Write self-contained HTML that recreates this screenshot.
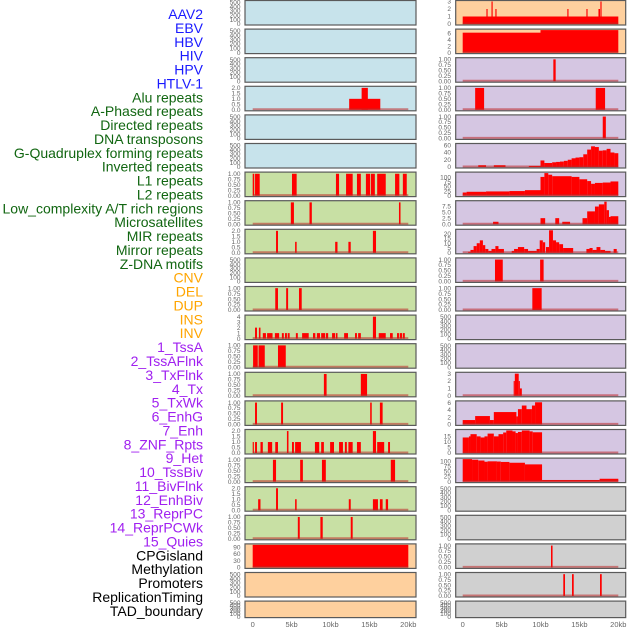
<!DOCTYPE html>
<html><head><meta charset="utf-8"><style>
html,body{margin:0;padding:0;background:#fff;width:630px;height:630px;overflow:hidden}
svg{display:block;font-family:"Liberation Sans",sans-serif}
</style></head><body>
<svg id="chart" width="630" height="630" viewBox="0 0 630 630"></svg>
<script>
// ---- data ----
const trackLabels = ["AAV2","EBV","HBV","HIV","HPV","HTLV-1","Alu repeats","A-Phased repeats","Directed repeats","DNA transposons","G-Quadruplex forming repeats","Inverted repeats","L1 repeats","L2 repeats","Low_complexity A/T rich regions","Microsatellites","MIR repeats","Mirror repeats","Z-DNA motifs","CNV","DEL","DUP","INS","INV","1_TssA","2_TssAFlnk","3_TxFlnk","4_Tx","5_TxWk","6_EnhG","7_Enh","8_ZNF_Rpts","9_Het","10_TssBiv","11_BivFlnk","12_EnhBiv","13_ReprPC","14_ReprPCWk","15_Quies","CPGisland","Methylation","Promoters","ReplicationTiming","TAD_boundary"];
const trackGroups = ["v","v","v","v","v","v","r","r","r","r","r","r","r","r","r","r","r","r","r","s","s","s","s","s","c","c","c","c","c","c","c","c","c","c","c","c","c","c","c","o","o","o","o","o"];
const xTicks = [0,5,10,15,20];
const xTickLabels = ["0","5kb","10kb","15kb","20kb"];
const ticksEmpty = [0,100,200,300,400,500];
const ticksUnit = [0,0.25,0.5,0.75,1];
const ticksTwo = [0,0.5,1,1.5,2];
// intervals: [startKb, endKb, value]
const hivData = [[12.4,16.4,1],[14.0,14.8,2]];
const aluData = [[0,0.2,1],[0.3,0.9,1],[5.05,5.65,1],[10.7,11.1,1],[12,12.85,1],[13.4,13.9,1],[14.55,15.1,1],[15.2,15.7,1],[16,17.1,1],[18.3,18.85,1],[19.3,19.8,1]];
const aphasedData = [[4.9,5.3,1],[7.3,7.6,1],[18.8,19.0,1]];
const directedData = [[3.0,3.25,2],[5.45,5.65,1],[10.6,10.9,1],[12.3,12.6,1],[15.45,15.85,2]];
const gquadData = [[2.9,3.25,1],[4.3,4.55,1],[5.95,6.3,1]];
const invertedData = [[0.3,0.55,2],[0.8,1.0,2],[1.3,1.7,1],[1.85,2.55,1],[2.85,3.4,1],[3.75,4.0,1],[4.15,4.4,1],[4.5,4.75,1],[5.55,5.8,1],[6.35,7.2,1],[7.75,8.05,1],[8.25,8.65,1],[8.8,9.3,1],[9.4,9.7,1],[10.2,10.6,1],[10.7,10.9,1],[11.75,12.25,1],[13.15,13.4,1],[13.55,13.9,1],[15.45,15.85,4],[16.2,17.1,1],[17.65,18.0,1],[18.55,18.8,1],[18.9,19.2,1],[19.3,19.55,1]];
const l1Data = [[0.05,0.65,1],[0.75,1.55,1],[3.25,4.25,1]];
const l2Data = [[9.15,9.5,1],[13.9,14.7,1]];
const lowcData = [[0.3,0.55,1],[3.65,3.9,1],[15.1,15.3,1],[16.35,16.7,1]];
const microData = [[0,0.15,1],[0.3,0.55,1],[1.0,1.3,1],[1.95,2.5,1],[2.9,3.25,1],[4.4,4.6,2],[5.05,5.3,1],[5.45,6.2,1],[8.0,8.55,1],[8.8,9.15,1],[9.95,10.45,1],[11.1,11.6,1],[11.85,12.1,1],[12.3,12.85,1],[13.4,13.9,1],[15.45,15.85,2],[16.0,16.9,1],[17.4,17.65,1]];
const mirData = [[2.6,3.0,1],[6.1,6.45,1],[8.9,9.4,1],[17.75,18.3,1]];
const mirrorData = [[0.7,1.0,1],[3.0,3.25,2],[5.45,5.65,1],[12.35,12.6,1],[15.45,16.1,1],[16.35,16.7,1],[17.1,17.4,1]];
const zdnaData = [[5.8,6.05,1],[8.7,9.0,1],[12.6,12.85,1]];
const cnvData = [[0,20,100]];
const insData = [[0,20,1],[3.05,3.2,2],[3.7,3.85,3],[4.2,4.35,2],[13.45,13.6,2],[15.9,16.05,2],[17.45,17.65,2],[17.7,17.85,3]];
const invData = [[0,10,6.2],[10,20,7]];
const tssaData = [[11.65,11.95,1]];
const tssaflnkData = [[1.6,2.75,1],[17.1,18.3,1]];
const txflnkData = [[18.0,18.4,1]];
const txData = [[2,3,5],[4,5.5,5],[8.5,10,3],[10,10.5,18],[10.5,11.5,11],[11.5,12,13],[12,12.5,14],[12.5,13,15],[13,13.5,17],[13.5,14,20],[14,14.5,24],[14.5,15,26],[15,15.5,27],[15.5,16,35],[16,16.5,48],[16.5,17,57],[17,17.5,55],[17.5,18,45],[18,18.5,46],[18.5,19,50],[19,19.5,40],[19.5,20,38]];
const txwkData = [[0,0.5,17],[0.5,3,21],[3,6,23],[6,8,25],[8,10,30],[10,10.5,103],[10.5,11,124],[11,11.5,115],[11.5,14,107],[14,15,103],[15,16,90],[16,16.5,80],[16.5,17,65],[17,18,70],[18,19,72],[19,20,78]];
const enhgData = [[3.9,4.6,1],[10,10.6,2.5],[11.9,12.4,2.5],[12.8,13.8,1],[15.4,16,2.5],[16,17,5.3],[17,17.5,7.3],[17.5,18.2,8.2],[18.2,18.5,9.3],[18.5,18.8,5.8],[18.8,19,3],[19,20,3.3]];
const enhData = [[0.7,1.0,1],[1.0,1.4,3],[1.4,1.8,7],[1.8,2.2,10],[2.2,2.6,13],[2.6,2.9,8],[2.9,3.3,4],[3.3,3.7,2],[3.7,4.2,4],[4.2,4.6,7],[4.6,5.3,4],[6.3,6.6,2],[6.6,7.1,4],[7.1,7.9,6],[7.9,8.4,4],[8.4,9.5,2],[9.5,9.9,4],[9.9,10.3,13],[10.3,10.6,11],[10.7,11.1,6],[11.1,11.6,23.5],[11.6,12.0,13],[12.0,12.4,11],[12.4,12.9,9],[12.9,14.2,5],[15.9,16.3,4],[16.3,16.7,5],[16.7,17.2,3],[17.2,17.7,6],[17.7,18.3,3],[18.3,19.0,2],[19.4,19.8,4]];
const znfData = [[4.15,5.15,1],[9.95,10.4,1]];
const hetData = [[8.95,10.15,1]];
const enhbivData = [[6.55,6.7,2],[6.7,7.2,3],[7.2,7.35,2],[7.35,7.6,1]];
const reprpcData = [[0,1.6,1.2],[1.6,3.5,2.3],[3.5,4.0,1.2],[4.0,6.9,3.4],[6.9,7.1,2.2],[7.1,7.6,4.2],[7.6,8.2,5.2],[8.2,8.9,4.2],[8.9,9.3,5.2],[9.3,10.2,6.1]];
const reprpcwkData = [[0,0.8,14],[0.8,1.0,15],[1.0,1.8,17],[1.8,2.3,15],[2.3,2.8,14],[2.8,3.2,15],[3.2,4.0,17.5],[4.0,4.6,15],[4.6,5.2,17],[5.2,5.6,18.5],[5.6,6.4,20.3],[6.4,6.8,19.5],[6.8,7.1,18],[7.1,7.6,19],[7.6,8.6,20.3],[8.6,9.0,19.5],[9.0,10.2,18.7]];
const quiesData = [[0,1.2,111],[1.2,2,108],[2,2.8,104],[2.8,3.2,98],[3.2,4.4,100],[4.4,4.9,99],[4.9,6.0,97],[6,8,93],[8,10.2,85],[10.2,17.6,8],[17.6,20,14]];
const promotersData = [[11.35,11.55,1]];
const repliData = [[12.93,13.15,1],[14.05,14.27,1],[17.65,17.87,1]];

// panel definitions (data refs, y max, ticks)
const panels = [
 [null,520,ticksEmpty],[null,520,ticksEmpty],[null,520,ticksEmpty],[hivData,2.05,ticksTwo],[null,520,ticksEmpty],[null,520,ticksEmpty],
 [aluData,1.03,ticksUnit],[aphasedData,1.03,ticksUnit],[directedData,2.05,ticksTwo],[null,520,ticksEmpty],[gquadData,1.03,ticksUnit],
 [invertedData,4.1,[0,1,2,3,4]],[l1Data,1.03,ticksUnit],[l2Data,1.03,ticksUnit],[lowcData,1.03,ticksUnit],[microData,2.05,ticksTwo],
 [mirData,1.03,ticksUnit],[mirrorData,2.05,ticksTwo],[zdnaData,1.03,ticksUnit],[cnvData,100,[0,30,60,90]],[null,520,ticksEmpty],[null,520,ticksEmpty],
 [insData,3,[0,1,2,3]],[invData,7,[0,2,4,6]],[tssaData,1.03,ticksUnit],[tssaflnkData,1.03,ticksUnit],[txflnkData,1.03,ticksUnit],
 [txData,62,[0,20,40,60]],[txwkData,124,[0,25,50,75,100]],[enhgData,9.3,[0,2.5,5,7.5]],[enhData,23.5,[0,5,10,15,20]],
 [znfData,1.03,ticksUnit],[hetData,1.03,ticksUnit],[null,520,ticksEmpty],[null,520,ticksEmpty],[enhbivData,3.05,[0,1,2,3]],
 [reprpcData,6.2,[0,2,4,6]],[reprpcwkData,20.3,[0,5,10,15]],[quiesData,111,[0,25,50,75,100]],
 [null,520,ticksEmpty],[null,520,ticksEmpty],[promotersData,1.03,ticksUnit],[repliData,1.03,ticksUnit],[null,520,ticksEmpty]
];
const tickFmt = {}; // formatting by ticks set
</script>
<script>
const NS="http://www.w3.org/2000/svg";
const svg=document.getElementById('chart');
function mk(tag,attrs,parent){const e=document.createElementNS(NS,tag);for(const k in attrs)e.setAttribute(k,attrs[k]);(parent||svg).appendChild(e);return e;}
const labelColor={v:"#1a1aff",r:"#116611",s:"#ffa500",c:"#a020f0",o:"#000000"};
const panelFill={v:"#c7e3eb",r:"#c8e0a4",s:"#fed09e",c:"#d5c6e2",o:"#d0d0d0"};
const colGeom=[{x:245,w:171,x0:252.7,tx:240.5},{x:455.7,w:170,x0:462.7,tx:451}];
const PX=7.78;
function xScale(col,kb){return colGeom[col].x0+kb*PX;}
function fmt(t,ticks){
  if(ticks===ticksUnit) return t.toFixed(2);
  if(ticks===ticksTwo) return t.toFixed(1);
  if(ticks.some(v=>v%1!==0)) return t.toFixed(1);
  return String(t);
}
// labels
trackLabels.forEach((lab,i)=>{
  const t=mk('text',{x:203,y:14+13.88*i+5,'text-anchor':'end','font-size':'14',fill:labelColor[trackGroups[i]]});
  
  
  t.textContent=lab;
});
panels.forEach((p,i)=>{
  const col=i<22?0:1, row=i%22;
  const g=colGeom[col];
  const top=0.5+28.6*row, h=row===21?16.5:24.5;
  const grp=mk('g',{});
  
  
  mk('rect',{x:g.x,y:top,width:g.w,height:h,fill:panelFill[trackGroups[i]]},grp);
  const data=p[0], ymax=p[1], ticks=p[2];
  const y0=top+h-1, y1=top+1;
  const yScale=v=>y0-(v/ymax)*(y0-y1);
  ticks.forEach(t=>{
    const tt=mk('text',{x:g.tx,y:yScale(t)+2.2,'text-anchor':'end','font-size':'6.5',fill:'#666'},grp);
    
    
    tt.textContent=fmt(t,ticks);
  });
  if(data){
    data.forEach(d=>{
      const r=mk('rect',{x:xScale(col,d[0]),y:yScale(d[2]),width:Math.max(1,(d[1]-d[0])*PX),height:y0-yScale(d[2]),fill:'#ff0000'},grp);
      
      
    });
    const bl=mk('line',{x1:xScale(col,0),x2:xScale(col,20),y1:y0-0.5,y2:y0-0.5,stroke:'rgba(190,40,40,0.55)','stroke-width':'2'},grp);
    
    
  }
  mk('rect',{x:g.x,y:top,width:g.w,height:h,fill:'none',stroke:'#5a5a5a','stroke-width':'1.2'},grp);
});
[0,1].forEach(col=>{
  xTicks.forEach((t,j)=>{
    const tt=mk('text',{x:xScale(col,t),y:627,'text-anchor':'middle','font-size':'7.5',fill:'#666'});
    
    
    tt.textContent=xTickLabels[j];
  });
});
</script>
</body></html>
